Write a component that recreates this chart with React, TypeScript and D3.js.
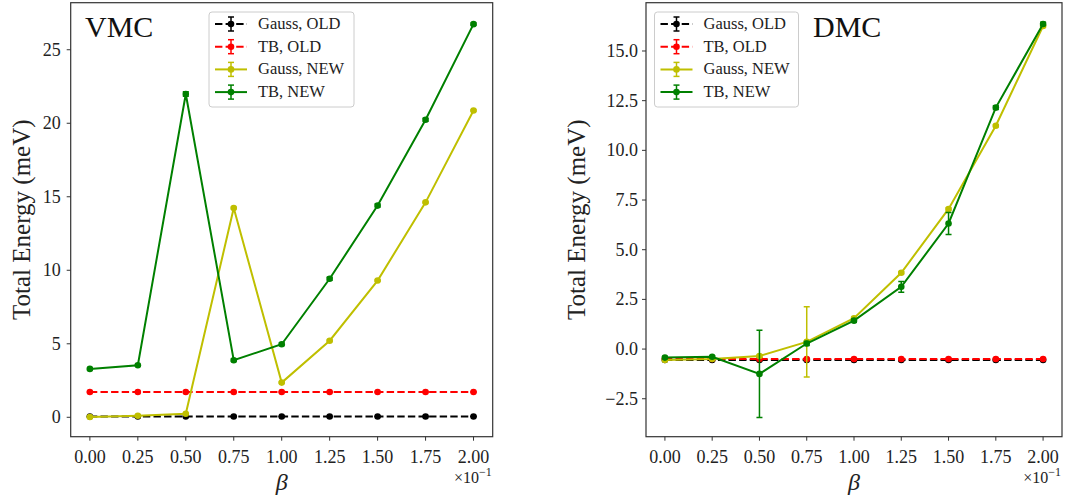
import React from "react";
import * as d3 from "d3";

const betaValues = [0, 0.25, 0.5, 0.75, 1.0, 1.25, 1.5, 1.75, 2.0];
const xTickLabels = ["0.00", "0.25", "0.50", "0.75", "1.00", "1.25", "1.50", "1.75", "2.00"];
const seriesNames = ["Gauss, OLD", "TB, OLD", "Gauss, NEW", "TB, NEW"];
const seriesColors = ["#000000", "#ff0000", "#bfbf00", "#008000"];
const seriesDashed = [true, true, false, false];

// VMC
const vmcGaussOld = [0.05, 0.05, 0.05, 0.05, 0.05, 0.05, 0.05, 0.05, 0.05];
const vmcGaussOldErr = [0.02, 0.02, 0.02, 0.02, 0.02, 0.02, 0.02, 0.02, 0.02];
const vmcTbOld = [1.72, 1.72, 1.72, 1.72, 1.72, 1.72, 1.72, 1.72, 1.72];
const vmcTbOldErr = [0.02, 0.02, 0.02, 0.02, 0.02, 0.02, 0.02, 0.02, 0.02];
const vmcGaussNew = [0.02, 0.1, 0.24, 14.23, 2.36, 5.21, 9.3, 14.62, 20.87];
const vmcGaussNewErr = [0.03, 0.03, 0.03, 0.05, 0.05, 0.05, 0.05, 0.05, 0.05];
const vmcTbNew = [3.29, 3.54, 21.99, 3.88, 4.97, 9.42, 14.4, 20.24, 26.74];
const vmcTbNewErr = [0.05, 0.05, 0.15, 0.08, 0.08, 0.1, 0.1, 0.1, 0.08];
const vmcYTicks = [0, 5, 10, 15, 20, 25];

// DMC
const dmcGaussOld = [-0.55, -0.55, -0.55, -0.55, -0.55, -0.55, -0.55, -0.55, -0.55];
const dmcGaussOldErr = [0.03, 0.03, 0.03, 0.03, 0.03, 0.03, 0.03, 0.03, 0.03];
const dmcTbOld = [-0.5, -0.5, -0.5, -0.5, -0.5, -0.5, -0.5, -0.5, -0.5];
const dmcTbOldErr = [0.03, 0.03, 0.03, 0.03, 0.03, 0.03, 0.03, 0.03, 0.03];
const dmcGaussNew = [-0.55, -0.5, -0.35, 0.36, 1.55, 3.84, 7.05, 11.24, 16.26];
const dmcGaussNewErr = [0.05, 0.05, 0.05, 1.77, 0.05, 0.05, 0.05, 0.05, 0.05];
const dmcTbNew = [-0.43, -0.39, -1.25, 0.28, 1.43, 3.13, 6.32, 12.15, 16.36];
const dmcTbNewErr = [0.05, 0.05, 2.2, 0.1, 0.08, 0.27, 0.55, 0.1, 0.08];
const dmcYTicks = [-2.5, 0, 2.5, 5, 7.5, 10, 12.5, 15];

const serif = "'Liberation Serif', 'DejaVu Serif', serif";

type PanelProps = {
  left: number;
  right: number;
  top: number;
  bottom: number;
  yDomain: [number, number];
  yTicks: number[];
  yFmt: (v: number) => string;
  values: number[][];
  errors: number[][];
  title: string;
  titleX: number;
  legendX: number;
  legendW: number;
  yLabelX: number;
  yTickGap: number;
};

function Panel(p: PanelProps) {
  const x = d3.scaleLinear().domain([-0.1, 2.1]).range([p.left, p.right]);
  const y = d3.scaleLinear().domain(p.yDomain).range([p.bottom, p.top]);
  const line = d3
    .line<number>()
    .x((_, i) => x(betaValues[i]))
    .y((d) => y(d));
  const legendY = 12;
  const rowGap = 22.7;
  return (
    <g>
      <defs>
        <clipPath id={"clip-" + p.title}>
          <rect x={p.left} y={p.top} width={p.right - p.left} height={p.bottom - p.top} />
        </clipPath>
      </defs>
      <g clipPath={`url(#clip-${p.title})`}>
        {p.values.map((vals, si) => (
          <g key={si}>
            {vals.map((v, i) => {
              const e = p.errors[si][i];
              const cx = x(betaValues[i]);
              return (
                <g key={i} stroke={seriesColors[si]} strokeWidth={1.5}>
                  <line x1={cx} x2={cx} y1={y(v - e)} y2={y(v + e)} />
                  <line x1={cx - 3} x2={cx + 3} y1={y(v - e)} y2={y(v - e)} />
                  <line x1={cx - 3} x2={cx + 3} y1={y(v + e)} y2={y(v + e)} />
                </g>
              );
            })}
            <path
              d={line(vals) || ""}
              fill="none"
              stroke={seriesColors[si]}
              strokeWidth={2}
              strokeDasharray={seriesDashed[si] ? "7.4,3.2" : undefined}
            />
            {vals.map((v, i) => (
              <circle key={i} cx={x(betaValues[i])} cy={y(v)} r={3.3} fill={seriesColors[si]} />
            ))}
          </g>
        ))}
      </g>
      <rect
        x={p.left}
        y={p.top}
        width={p.right - p.left}
        height={p.bottom - p.top}
        fill="none"
        stroke="#333"
        strokeWidth={1.2}
      />
      {betaValues.map((b, i) => (
        <g key={i}>
          <line x1={x(b)} x2={x(b)} y1={p.bottom} y2={p.bottom + 4} stroke="#333" strokeWidth={1} />
          <text x={x(b)} y={p.bottom + 26} textAnchor="middle" fontFamily={serif} fontSize={18} fill="#222">
            {xTickLabels[i]}
          </text>
        </g>
      ))}
      {p.yTicks.map((t) => (
        <g key={t}>
          <line x1={p.left - 4} x2={p.left} y1={y(t)} y2={y(t)} stroke="#333" strokeWidth={1} />
          <text
            x={p.left - p.yTickGap}
            y={y(t) + 6}
            textAnchor="end"
            fontFamily={serif}
            fontSize={18}
            fill="#222"
          >
            {p.yFmt(t)}
          </text>
        </g>
      ))}
      <text
        x={(p.left + p.right) / 2}
        y={490}
        textAnchor="middle"
        fontFamily={serif}
        fontStyle="italic"
        fontSize={24}
        fill="#222"
      >
        β
      </text>
      <text x={p.right - 1} y={483} textAnchor="end" fontFamily={serif} fontSize={16} fill="#222">
        ×10
        <tspan dy={-7} fontSize={12}>
          −1
        </tspan>
      </text>
      <text
        transform={`translate(${p.yLabelX},${(p.top + p.bottom) / 2}) rotate(-90)`}
        textAnchor="middle"
        fontFamily={serif}
        fontSize={25}
        fill="#222"
      >
        Total Energy (meV)
      </text>
      <text x={p.titleX} y={37} fontFamily={serif} fontSize={30} fill="#111">
        {p.title}
      </text>
      <g>
        <rect
          x={p.legendX}
          y={legendY}
          width={p.legendW}
          height={95}
          rx={3}
          fill="white"
          fillOpacity={0.8}
          stroke="#ccc"
          strokeWidth={1}
        />
        {seriesNames.map((name, si) => {
          const ry = legendY + 12 + si * rowGap;
          const lx0 = p.legendX + 6;
          const lx1 = p.legendX + 38;
          const mx = (lx0 + lx1) / 2;
          return (
            <g key={si}>
              <line
                x1={lx0}
                x2={lx1}
                y1={ry}
                y2={ry}
                stroke={seriesColors[si]}
                strokeWidth={2}
                strokeDasharray={seriesDashed[si] ? "7.4,3.2" : undefined}
              />
              <g stroke={seriesColors[si]} strokeWidth={1.5}>
                <line x1={mx} x2={mx} y1={ry - 7} y2={ry + 7} />
                <line x1={mx - 3} x2={mx + 3} y1={ry - 7} y2={ry - 7} />
                <line x1={mx - 3} x2={mx + 3} y1={ry + 7} y2={ry + 7} />
              </g>
              <circle cx={mx} cy={ry} r={3.3} fill={seriesColors[si]} />
              <text x={p.legendX + 49} y={ry + 5} fontFamily={serif} fontSize={16.5} fill="#222">
                {name}
              </text>
            </g>
          );
        })}
      </g>
    </g>
  );
}

export default function App() {
  const fmtInt = (v: number) => d3.format("d")(v);
  const fmt1 = (v: number) => d3.format(".1f")(v);
  return (
    <svg
      width={1086}
      height={500}
      style={{ position: "absolute", left: 0, top: 0, background: "white" }}
    >
      <Panel
        left={70.7}
        right={492.7}
        top={2.7}
        bottom={436.7}
        yDomain={[-1.32, 28.2]}
        yTicks={vmcYTicks}
        yFmt={fmtInt}
        values={[vmcGaussOld, vmcTbOld, vmcGaussNew, vmcTbNew]}
        errors={[vmcGaussOldErr, vmcTbOldErr, vmcGaussNewErr, vmcTbNewErr]}
        title="VMC"
        titleX={85}
        legendX={209}
        legendW={145}
        yLabelX={30}
        yTickGap={10}
      />
      <Panel
        left={646}
        right={1062}
        top={2.7}
        bottom={436.7}
        yDomain={[-4.41, 17.43]}
        yTicks={dmcYTicks}
        yFmt={fmt1}
        values={[dmcGaussOld, dmcTbOld, dmcGaussNew, dmcTbNew]}
        errors={[dmcGaussOldErr, dmcTbOldErr, dmcGaussNewErr, dmcTbNewErr]}
        title="DMC"
        titleX={813}
        legendX={654.5}
        legendW={144}
        yLabelX={585}
        yTickGap={8}
      />
    </svg>
  );
}
